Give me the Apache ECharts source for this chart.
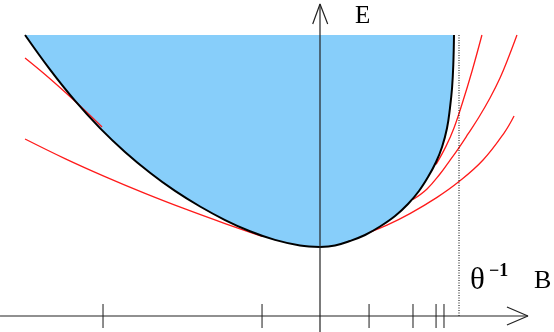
<!DOCTYPE html>
<html>
<head>
<meta charset="utf-8">
<script src="https://cdn.jsdelivr.net/npm/echarts@6/dist/echarts.min.js"></script>
<style>
  html, body { margin: 0; padding: 0; background: #fff; }
  #chart { width: 554px; height: 332px; }
</style>
</head>
<body>
<div id="chart"></div>
<script>
  // B in units of theta^-1, E in units of the minimum energy
  // boundary of the shaded region, left of the minimum
  const boundLeftB = [-2.122, -1.942, -1.763, -1.583, -1.403, -1.223, -1.043, -0.863, -0.683, -0.504, -0.324, -0.144, 0]
  const boundLeftE = [4.072, 3.570, 3.120, 2.723, 2.378, 2.077, 1.813, 1.587, 1.391, 1.228, 1.103, 1.022, 1.0]
  // boundary right of the minimum
  const boundRightB = [0, 0.108, 0.216, 0.324, 0.432, 0.540, 0.633, 0.712, 0.777, 0.835, 0.878, 0.914, 0.935, 0.950, 0.959, 0.964]
  const boundRightE = [1.0, 1.022, 1.087, 1.174, 1.297, 1.449, 1.623, 1.812, 2.014, 2.232, 2.449, 2.725, 3.014, 3.304, 3.638, 4.072]

  // red tangent curves
  const redLeft1B = [-2.122, -1.978, -1.835, -1.691, -1.568]
  const redLeft1E = [3.739, 3.500, 3.246, 2.978, 2.739]
  const redLeft2B = [-2.122, -1.835, -1.547, -1.259, -0.971, -0.683, -0.417]
  const redLeft2E = [2.565, 2.281, 2.020, 1.777, 1.551, 1.339, 1.154]
  const redRight1B = [1.165, 1.094, 1.022, 0.964, 0.906, 0.835]
  const redRight1E = [4.072, 3.551, 3.072, 2.725, 2.458, 2.197]
  const redRight2B = [1.417, 1.360, 1.295, 1.223, 1.144, 1.065, 0.993, 0.921, 0.863, 0.770, 0.669]
  const redRight2E = [4.072, 3.768, 3.449, 3.159, 2.884, 2.638, 2.420, 2.217, 2.058, 1.841, 1.688]
  const redRight3B = [1.396, 1.324, 1.173, 1.0, 0.842, 0.647, 0.482, 0.360]
  const redRight3E = [2.899, 2.652, 2.261, 1.948, 1.719, 1.484, 1.317, 1.217]

  // tick marks on the B axis
  const tickB = [-1.561, -0.417, 0.353, 0.669, 0.835, 0.892]
  const thetaInv = 1.0
  const topE = 4.072

  // axes (drawn as lines with open arrow heads)
  const axisBLineB = [-2.302, 1.496]
  const axisBArrowB = [1.345, 1.496, 1.345]
  const axisBArrowE = [0.130, 0, -0.130]
  const axisELineE = [-0.232, 4.522]
  const axisEArrowB = [-0.0525, 0, 0.0554]
  const axisEArrowE = [4.232, 4.522, 4.232]

  const pairs = (b, e) => b.map((v, i) => [v, e[i]])

  const chart = echarts.init(document.getElementById('chart'))

  function curve(b, e, color, width, z) {
    return {
      type: 'line',
      data: pairs(b, e),
      smooth: 0.4,
      symbol: 'none',
      lineStyle: { color: color, width: width },
      z: z,
      silent: true
    }
  }

  function straight(data, z) {
    return {
      type: 'line',
      data: data,
      symbol: 'none',
      lineStyle: { color: '#222', width: 1.2 },
      z: z,
      silent: true
    }
  }

  function label(text, left, top, size, weight) {
    return {
      type: 'text',
      left: left,
      top: top,
      style: {
        text: text,
        fontFamily: 'Liberation Serif',
        fontSize: size,
        fontWeight: weight || 'normal',
        fill: '#000'
      }
    }
  }

  const option = {
    animation: false,
    grid: { left: 0, right: 0, top: 0, bottom: 0 },
    xAxis: { type: 'value', min: -320 / 139, max: 234 / 139, show: false },
    yAxis: { type: 'value', min: -16 / 69, max: 316 / 69, show: false },
    series: [
      // shaded region above the boundary
      {
        type: 'custom',
        data: [0],
        z: 1,
        silent: true,
        renderItem: function (params, api) {
          const pts = pairs(boundLeftB, boundLeftE)
            .concat(pairs(boundRightB, boundRightE).slice(1))
            .map(p => api.coord(p))
          return { type: 'polygon', shape: { points: pts }, style: { fill: '#87cefa' } }
        }
      },
      curve(redLeft1B, redLeft1E, '#ff1a1a', 1.3, 2),
      curve(redLeft2B, redLeft2E, '#ff1a1a', 1.3, 2),
      curve(redRight1B, redRight1E, '#ff1a1a', 1.3, 2),
      curve(redRight2B, redRight2E, '#ff1a1a', 1.3, 2),
      curve(redRight3B, redRight3E, '#ff1a1a', 1.3, 2),
      curve(boundLeftB, boundLeftE, '#000', 2, 3),
      curve(boundRightB, boundRightE, '#000', 2, 3),
      // dotted line at theta^-1
      {
        type: 'line',
        data: [[thetaInv, 0], [thetaInv, topE]],
        symbol: 'none',
        lineStyle: { color: '#000', width: 1, type: [1, 1.5] },
        z: 4
      },
      straight(axisBLineB.map(v => [v, 0]), 4),
      straight(pairs(axisBArrowB, axisBArrowE), 4),
      straight(axisELineE.map(v => [0, v]), 4),
      straight(pairs(axisEArrowB, axisEArrowE), 4),
      // ticks
      {
        type: 'scatter',
        data: tickB.map(v => [v, 0]),
        symbol: 'rect',
        symbolSize: [1.3, 24],
        itemStyle: { color: '#222' },
        z: 4
      }
    ],
    graphic: [
      label('E', 355, 4, 25),
      label('θ', 470, 265, 31),
      label('−1', 489, 262, 18, 'bold'),
      label('B', 534, 268, 26)
    ]
  }
  chart.setOption(option)
</script>
</body>
</html>
